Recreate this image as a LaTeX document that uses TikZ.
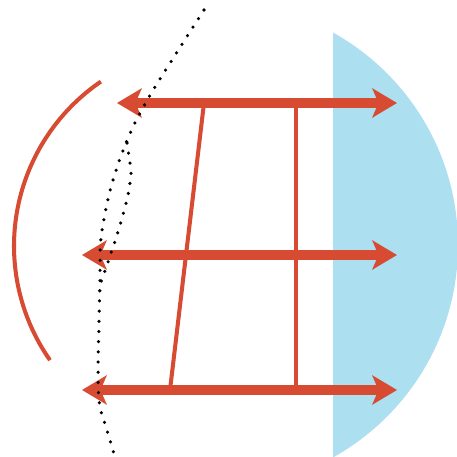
\documentclass[tikz,border=0pt]{standalone}
\usepackage{tikz}
\usetikzlibrary{arrows.meta}
\definecolor{rojoRayo}{RGB}{216,75,51}
\definecolor{azulLente}{RGB}{172,223,240}

\begin{document}
\begin{tikzpicture}[
  x=0.02cm, y=0.02cm,
  ray/.style={{Stealth[length=14pt, width=16.5pt, inset=3.5pt]}-{Stealth[length=14pt, width=16.5pt, inset=3.5pt]},
              line width=5.7pt, color=rojoRayo},
  bar/.style={line width=2.3pt, color=rojoRayo},
  dots/.style={line width=2pt, line cap=round, dash pattern=on 0pt off 5.8pt}
]
  \useasboundingbox (0,0) rectangle (457,457);

  % lens
  \begin{scope}
    \clip (333,0) rectangle (457,457);
    \fill[azulLente] (215,212) circle[radius=243];
  \end{scope}

  % ray end points
  \coordinate (topL) at (117,354);
  \coordinate (topR) at (397,354);
  \coordinate (midL) at (82,202);
  \coordinate (midR) at (397,202);
  \coordinate (botL) at (82,67);
  \coordinate (botR) at (397,67);
  \coordinate (slantT) at (204,354);
  \coordinate (slantB) at (170,67);
  \coordinate (vertT) at (296,354);
  \coordinate (vertB) at (296,67);
  \coordinate (arcC) at (213,211);

  % struts
  \draw[bar] (slantT) -- (slantB);
  \draw[bar] (vertT) -- (vertB);
  \draw[bar] (arcC) ++(124.3:199) arc[start angle=124.3, end angle=215, radius=199];

  % rays
  \draw[ray] (topL) -- (topR);
  \draw[ray] (midL) -- (midR);
  \draw[ray] (botL) -- (botR);

  % wavefronts
  \draw[dots] plot[smooth] coordinates {(204,447) (152,365) (128,319) (111,270) (101,219) (100,177) (98,82) (100,50) (106,30) (115,0)};
  \draw[dots] plot[smooth] coordinates {(127,314) (130,294) (131,283) (128,262) (123,242) (117,222) (107,192) (100,172)};
\end{tikzpicture}
\end{document}
